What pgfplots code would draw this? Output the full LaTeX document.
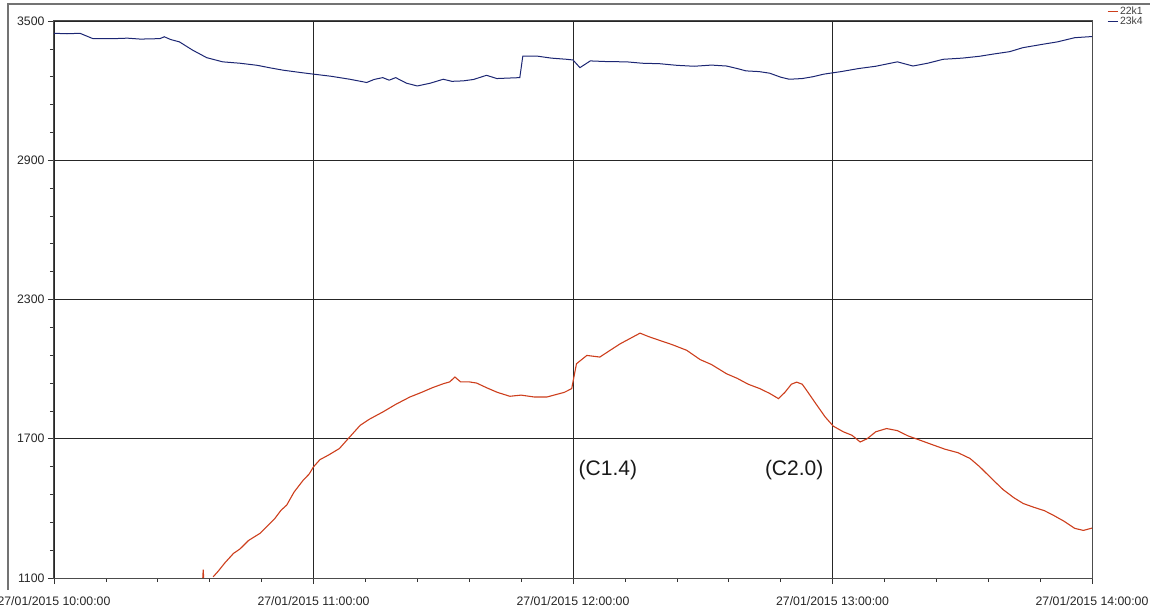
\documentclass[border=0pt]{standalone}
\usepackage{pgfplots}
\pgfplotsset{compat=1.18}
\usepackage{fontspec}
\setmainfont{Liberation Sans}
\definecolor{sigred}{RGB}{205,62,28}
\definecolor{sigblue}{RGB}{28,38,115}

\begin{document}
\begin{tikzpicture}
% panel frame (axis box corner sits at the origin)
\fill[black!55] (-47pt,-12pt) rectangle (-45pt,575pt);
\fill[black!55] (-47pt,573pt) rectangle (1100pt,575pt);
\begin{axis}[
  name=ax, at={(0pt,0pt)}, anchor=south west,
  width=1038pt, height=557pt, scale only axis,
  xmin=0, xmax=240, ymin=1100, ymax=3500,
  xtick={0,60,120,180,240},
  xticklabels={27/01/2015 10:00:00,27/01/2015 11:00:00,27/01/2015 12:00:00,27/01/2015 13:00:00,27/01/2015 14:00:00},
  ytick={1100,1700,2300,2900,3500},
  minor x tick num=4, minor y tick num=4,
  xtick pos=bottom, ytick pos=left,
  tick align=outside,
  major tick length=6pt, minor tick length=4pt,
  tick style={black!80, line width=0.6pt},
  grid=major,
  major grid style={black!85, line width=0.8pt},
  axis line style={black!70, line width=1pt},
  ticklabel style={font=\fontsize{12.3}{13}\selectfont, text=black!85},
  /pgf/number format/assume math mode=true,
  y tick label style={/pgf/number format/1000 sep={}},
  xticklabel style={yshift=-9pt},
  unbounded coords=jump,
  legend style={at={(1,1)}, anchor=north west, xshift=14pt, yshift=17pt,
    draw=none, fill=none, font=\fontsize{10.5}{11}\selectfont, text=black!75,
    row sep=-3pt, inner sep=1pt},
  legend cell align=left,
  legend image code/.code={\draw[#1, line width=0.8pt] (0pt,0pt) -- (10pt,0pt);},
]
% 22k1
\addplot[sigred, line width=1.1pt] coordinates {
(34.4,1100) (34.5,1136) (34.6,1100) (34.7,nan)
(36.8,1105) (38,1130) (39.5,1165) (41.5,1206) (43,1225) (45,1262) (47.6,1292)
(49,1318) (51,1355) (52.5,1392) (53.8,1414) (55.5,1470) (57.6,1521) (59,1548)
(60,1579) (61.5,1610) (63.5,1630) (66,1658) (68,1700) (70.8,1758) (73,1785)
(76,1815) (79,1848) (82.3,1880) (85,1900) (87.5,1920) (90,1937) (91.5,1945)
(92.7,1966) (94,1945) (96,1945) (97.7,1940) (100,1920) (102.5,1900) (105.4,1883)
(108,1888) (111,1880) (114,1880) (116,1890) (118,1900) (119.7,1916)
(120.8,2023) (123.2,2059) (126.2,2052) (128.5,2080) (130.9,2109) (133,2130)
(135.5,2155) (137.5,2140) (140,2124) (143,2105) (146.3,2081) (149.4,2041)
(152,2020) (155.5,1980) (158,1960) (160.5,1935) (163.2,1916) (165.5,1895)
(167.5,1873) (169,1900) (170.5,1935) (171.7,1944) (173,1935) (174,1909)
(176,1855) (178.3,1794) (180.2,1754) (182.5,1730) (184.5,1715) (186.4,1686)
(188,1700) (190,1730) (192.5,1744) (195,1735) (197.5,1712) (200.2,1694)
(203,1675) (206,1655) (209,1640) (211.8,1615) (214,1580) (217.2,1521)
(219.5,1480) (222,1445) (224.1,1421) (226.5,1405) (229,1390) (231,1371)
(233.5,1345) (236,1314) (238,1305) (240,1315)
};
\addlegendentry{22k1}
% 23k4
\addplot[sigblue, line width=1pt] coordinates {
(0,3447) (3,3445) (6,3447) (9,3424) (14,3424) (17,3426) (20,3422) (24.5,3424)
(25.5,3432) (27,3420) (29,3410) (32,3375) (35.3,3342) (39,3324) (43,3318)
(47,3309) (50,3298) (53,3288) (57,3278) (60,3271) (64,3262) (68.4,3249)
(72.3,3235) (74,3248) (76,3256) (77.5,3245) (79,3256) (81.5,3232) (84,3220)
(87,3232) (90,3249) (92,3240) (94.6,3242) (97,3248) (100,3266) (102.4,3252)
(105,3254) (107.7,3256) (108.4,3349) (111.6,3349) (115,3340) (118.5,3335)
(120,3332) (121.6,3299) (124,3328) (128,3325) (132.4,3324) (136,3318)
(140,3316) (144,3309) (148,3305) (152,3310) (155.5,3306) (158,3295)
(160,3285) (163,3282) (165.5,3275) (168,3258) (170,3249) (173,3252)
(175.5,3260) (178,3271) (182,3282) (186,3295) (190,3305) (195,3324)
(198.6,3306) (202,3318) (205.6,3335) (210,3340) (214,3348) (217,3357)
(221,3368) (224,3385) (228.7,3400) (232,3410) (236,3428) (240,3433)
};
\addlegendentry{23k4}
\node[anchor=west, font=\fontsize{21}{22}\selectfont, text=black!90] at (axis cs:120.5,1564) {(C1.4)};
\node[anchor=east, font=\fontsize{21}{22}\selectfont, text=black!90] at (axis cs:178.7,1564) {(C2.0)};
\end{axis}
\pgfresetboundingbox
\useasboundingbox (-54pt,-32pt) rectangle (1096pt,578pt);
\end{tikzpicture}
\end{document}
